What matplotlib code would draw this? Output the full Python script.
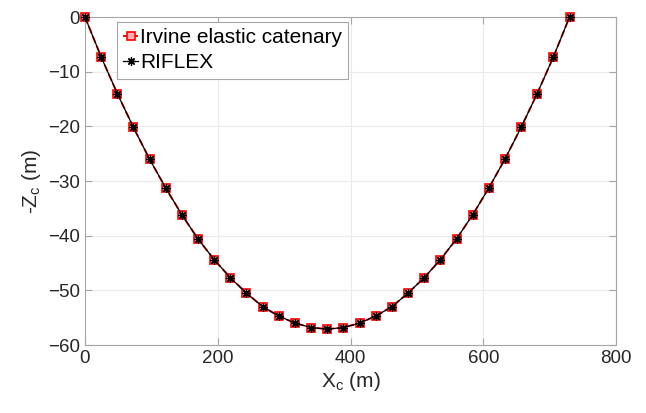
import matplotlib
matplotlib.use("Agg")
import matplotlib.pyplot as plt

plt.rcParams['font.family'] = ['Liberation Sans', 'DejaVu Sans']

x_irvine = [0.0, 24.3, 48.7, 73.0, 97.3, 121.7, 146.0, 170.3, 194.7, 219.0, 243.3,
            267.7, 292.0, 316.3, 340.7, 365.0, 389.3, 413.7, 438.0, 462.3, 486.7,
            511.0, 535.3, 559.7, 584.0, 608.3, 632.7, 657.0, 681.3, 705.7, 730.0]
z_irvine = [0.0, -7.3, -14.0, -20.2, -26.0, -31.3, -36.2, -40.6, -44.4, -47.7, -50.5,
            -53.0, -54.7, -56.0, -56.8, -57.1, -56.8, -56.0, -54.7, -53.0, -50.5,
            -47.7, -44.4, -40.6, -36.2, -31.3, -26.0, -20.2, -14.0, -7.3, 0.0]
x_riflex = list(x_irvine)
z_riflex = list(z_irvine)

xticks = [0, 200, 400, 600, 800]
yticks = [-60, -50, -40, -30, -20, -10, 0]

fig = plt.figure(figsize=(6.46, 4.13), dpi=100)
ax = fig.add_axes([85/646, (413-345)/413, 531/646, 328/413])

ax.plot(x_irvine, z_irvine, color='red', linestyle='--', linewidth=1.4,
        marker='s', markersize=5.5, markerfacecolor='#ffb0b0', markeredgecolor='red',
        markeredgewidth=1.2, label='Irvine elastic catenary', clip_on=False, zorder=3)
ax.plot(x_riflex, z_riflex, color='black', linestyle='-', linewidth=0.9,
        marker=(8, 2, 0), markersize=6, markeredgewidth=0.9, label='RIFLEX',
        clip_on=False, zorder=4)

ax.set_xlim(0, 800)
ax.set_ylim(-60, 0)
ax.set_xticks(xticks)
ax.set_yticks(yticks)
ax.tick_params(direction='in', length=5, width=0.8, colors='#a6a6a6',
               labelcolor='#262626', labelsize=13.5, top=True, right=True)
for s in ax.spines.values():
    s.set_color('#a6a6a6')
    s.set_linewidth(0.8)
ax.grid(True, color='#ebebeb', linewidth=0.8)
ax.set_axisbelow(True)

ax.set_xlabel(r'X$_\mathregular{c}$ (m)', fontsize=15, color='#262626', labelpad=2)
ax.set_ylabel(r'-Z$_\mathregular{c}$ (m)', fontsize=15, color='#262626', labelpad=4)

leg = ax.legend(loc='upper left', bbox_to_anchor=(32/531, 1 - 5/328), borderaxespad=0,
                fontsize=15, handlelength=0.7, handletextpad=0.1, labelspacing=0.3,
                borderpad=0.3, fancybox=False, framealpha=1)
leg.get_frame().set_edgecolor('#a6a6a6')
leg.get_frame().set_linewidth(0.8)

fig.savefig('out.png', dpi=100)
